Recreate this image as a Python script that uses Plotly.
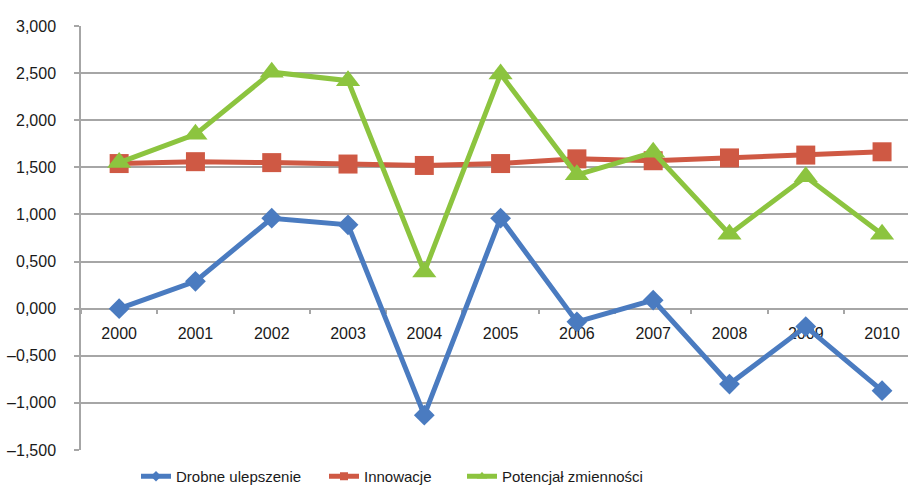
import plotly.graph_objects as go

years = ["2000", "2001", "2002", "2003", "2004", "2005", "2006", "2007", "2008", "2009", "2010"]
drobne = [0.00, 0.29, 0.96, 0.89, -1.13, 0.96, -0.14, 0.09, -0.80, -0.19, -0.87]
innowacje = [1.54, 1.56, 1.55, 1.535, 1.52, 1.54, 1.59, 1.57, 1.60, 1.63, 1.665]
potencjal = [1.55, 1.85, 2.51, 2.42, 0.39, 2.49, 1.42, 1.66, 0.79, 1.40, 0.79]

y_ticks = [3.0, 2.5, 2.0, 1.5, 1.0, 0.5, 0.0, -0.5, -1.0, -1.5]
y_tick_text = ["3,000", "2,500", "2,000", "1,500", "1,000", "0,500", "0,000",
               "–0,500", "–1,000", "–1,500"]

FONT = "Liberation Sans Narrow, Arial Narrow, Liberation Sans, Arial, sans-serif"
GRID = "#a6a6a6"
W, H = 908, 485

series = [
    ("Drobne ulepszenie", drobne, "#4a7bc0", "diamond", 16, 8, "legend"),
    ("Innowacje", innowacje, "#cf5944", "square", 19, 8, "legend2"),
    ("Potencjał zmienności", potencjal, "#8cc43f", "triangle-up", 21, 9, "legend3"),
]

fig = go.Figure()
for name, vals, color, symbol, msize, lsize, leg in series:
    # the series itself
    fig.add_trace(go.Scatter(
        x=years, y=vals, name=name, mode="lines+markers", showlegend=False,
        line=dict(color=color, width=5),
        marker=dict(symbol=symbol, size=msize, color=color),
    ))
    # legend entry with a smaller marker
    fig.add_trace(go.Scatter(
        x=[None], y=[None], name=name, mode="lines+markers", legend=leg,
        line=dict(color=color, width=5),
        marker=dict(symbol=symbol, size=lsize, color=color),
    ))

leg_common = dict(orientation="h", xref="container", yref="container",
                  xanchor="left", yanchor="middle", y=8.5 / H,
                  font=dict(family=FONT, size=15, color="#1a1a1a"),
                  bgcolor="rgba(0,0,0,0)")

fig.update_layout(
    width=W, height=H,
    margin=dict(l=81, r=0, t=26, b=35, autoexpand=False),
    paper_bgcolor="white", plot_bgcolor="white",
    font=dict(family=FONT, size=16, color="#1a1a1a"),
    showlegend=True,
    legend=dict(x=136 / W, **leg_common),
    legend2=dict(x=324 / W, **leg_common),
    legend3=dict(x=462 / W, **leg_common),
    xaxis=dict(
        type="category", range=[-0.5, 10.34],
        anchor="free", position=1.5 / 4.5,
        showgrid=False, showline=True, linecolor=GRID, linewidth=1.5,
        ticks="outside", ticklen=5, tickcolor=GRID, tickwidth=1.5,
        tickson="boundaries", layer="below traces",
        ticklabelstandoff=10,
        tickfont=dict(family=FONT, size=16),
        zeroline=False,
    ),
    yaxis=dict(
        range=[-1.5, 3.0], tickvals=y_ticks, ticktext=y_tick_text,
        showgrid=True, gridcolor=GRID, gridwidth=1.5,
        showline=True, linecolor=GRID, linewidth=1.5,
        ticks="outside", ticklen=5, tickcolor=GRID, tickwidth=1.5,
        ticklabelstandoff=15,
        tickfont=dict(family=FONT, size=16),
        zeroline=False,
    ),
)

fig.write_html("out.html")
